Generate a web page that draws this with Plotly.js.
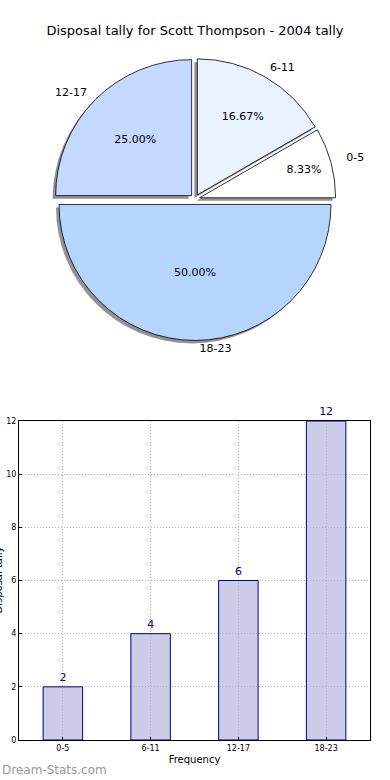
<!DOCTYPE html>
<html>
<head>
<meta charset="utf-8">
<script src="https://cdn.plot.ly/plotly-3.0.1.min.js"></script>
<style>html,body{margin:0;padding:0;background:#fff;}#chart{width:390px;height:780px;}</style>
</head>
<body>
<div id="chart"></div>
<script>
// Data
const categories = ['0-5', '6-11', '12-17', '18-23'];
const tallies = [2, 4, 6, 12];
const sliceColors = ['#ffffff', '#eaf1ff', '#c5d8ff', '#b5d5ff'];
const pulls = [0.035, 0.035, 0.035, 0.04];
const labelPulls = [0.13, 0.07, 0.08, 0.055];
const yTicks = [0, 2, 4, 6, 8, 10, 12];
const titleText = 'Disposal tally for Scott Thompson - 2004 tally';
const xTitle = 'Frequency';
const yTitle = 'Disposal tally';
const watermark = 'Dream-Stats.com';

const FONT = 'DejaVu Sans, sans-serif';
// first slice should start at 3 o'clock going counterclockwise
const total = tallies.reduce((a, b) => a + b, 0);
const startRotation = 90 - 360 * tallies[0] / total;

// plot area: x 19..370, y 0..740 (px)
const cx = 195, cy = 199, R = 136;
function dom(half, ox, oy) {
  return {x: [(cx + ox - half - 19) / 351, (cx + ox + half - 19) / 351],
          y: [(740 - cy - oy - half) / 740, (740 - cy - oy + half) / 740]};
}
const pieDom = dom(R * (1 + Math.max(...pulls)), 0, 0);
const shadowDom = dom(R * (1 + Math.max(...pulls)), -3, 3);
const labelDom = dom(R * (1 + Math.max(...labelPulls)), 0, 0);

const common = {
  type: 'pie', labels: categories, values: tallies, sort: false,
  direction: 'counterclockwise', rotation: startRotation, pull: pulls, hoverinfo: 'skip'
};

const shadow = Object.assign({}, common, {
  domain: shadowDom,
  marker: {colors: categories.map(() => 'rgba(110,110,110,0.75)'), line: {width: 0}},
  textinfo: 'none', showlegend: false
});

const main = Object.assign({}, common, {
  domain: pieDom,
  marker: {colors: sliceColors, line: {color: '#000', width: 0.8}},
  texttemplate: '%{percent:.2%}', textposition: 'inside', insidetextorientation: 'horizontal',
  textfont: {family: FONT, size: 11, color: '#000'}, showlegend: false
});

const labelsTrace = Object.assign({}, common, {
  domain: labelDom, pull: labelPulls, rotation: startRotation - 0.5,
  marker: {colors: categories.map(() => 'rgba(0,0,0,0)'), line: {width: 0}},
  texttemplate: '%{label}', textposition: 'outside',
  outsidetextfont: {family: FONT, size: 11, color: '#000'}, showlegend: false
});

const bars = {
  type: 'bar', x: categories, y: tallies, width: 0.45,
  marker: {color: 'rgba(170,170,213,0.6)', line: {color: 'rgb(0,0,139)', width: 1}},
  text: tallies.map(String), textposition: 'outside', cliponaxis: false,
  textfont: {family: FONT, size: 11, color: 'rgb(0,0,139)'},
  xaxis: 'x', yaxis: 'y', showlegend: false, hoverinfo: 'skip'
};

const layout = {
  width: 390, height: 780,
  margin: {l: 19, r: 20, t: 0, b: 40},
  paper_bgcolor: '#fff', plot_bgcolor: '#fff',
  font: {family: FONT, color: '#000'},
  title: {text: titleText, font: {family: FONT, size: 13, color: '#000'}, x: 0.5, xanchor: 'center', y: 1 - 30 / 780, yanchor: 'middle', yref: 'container'},
  xaxis: {
    domain: [0, 1], range: [-0.5, 3.5], type: 'category',
    showline: true, mirror: true, linecolor: '#000', linewidth: 1,
    showgrid: true, gridcolor: '#b8b8b8', griddash: '1px,2px', gridwidth: 1,
    ticks: 'inside', ticklen: 3, tickcolor: '#000',
    tickfont: {family: FONT, size: 8, color: '#000'},
    title: {text: xTitle, font: {family: FONT, size: 10, color: '#000'}, standoff: 4},
    layer: 'above traces', zeroline: false
  },
  yaxis: {
    domain: [0, 319 / 740], range: [0, 12], tickvals: yTicks,
    showline: true, mirror: true, linecolor: '#000', linewidth: 1,
    showgrid: true, gridcolor: '#b8b8b8', griddash: '1px,2px', gridwidth: 1,
    ticks: 'inside', ticklen: 3, tickcolor: '#000',
    tickfont: {family: FONT, size: 8, color: '#000'},
    layer: 'above traces', zeroline: false
  },
  annotations: [
    {text: yTitle, xref: 'paper', yref: 'paper', x: 0, xshift: -21, y: 159.5 / 740,
     textangle: -90, showarrow: false, xanchor: 'center', yanchor: 'middle',
     font: {family: FONT, size: 10, color: '#000'}},
    {text: watermark, xref: 'paper', yref: 'paper', x: 0, xshift: -19, y: 0, yshift: -30,
     showarrow: false, xanchor: 'left', yanchor: 'middle',
     font: {family: FONT, size: 12, color: '#999'}}
  ]
};

Plotly.newPlot('chart', [shadow, main, labelsTrace, bars], layout, {displayModeBar: false, staticPlot: true});
</script>
</body>
</html>
